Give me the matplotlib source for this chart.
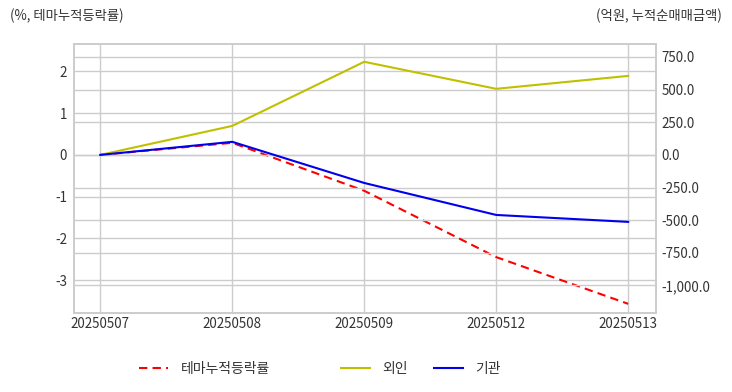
import matplotlib
matplotlib.use("Agg")
import matplotlib.pyplot as plt
from matplotlib.ticker import FuncFormatter, FixedLocator

plt.rcParams['font.family'] = ['Noto Sans CJK KR', 'DejaVu Sans']
plt.rcParams['axes.unicode_minus'] = False

dates = ["20250507", "20250508", "20250509", "20250512", "20250513"]
theme_rate = [0.0, 0.29, -0.86, -2.45, -3.57]
foreign = [0.0, 222, 713, 506, 605]
institution = [0.0, 100, -215, -460, -513]

left_ticks = [-3, -2, -1, 0, 1, 2]
right_ticks = [-1000, -750, -500, -250, 0, 250, 500, 750]

grid_c = "#cccccc"
text_c = "#333333"
fs = 9.6

fig = plt.figure(figsize=(7.32, 3.92), dpi=100)
ax = fig.add_axes([0.101, 0.2015, 0.795, 0.6865])
ax2 = ax.twinx()

x = list(range(len(dates)))
l1, = ax.plot(x, theme_rate, color="#ff0000", linestyle=(0, (4, 2.5)), lw=1.5, label="테마누적등락률", zorder=3)
l2, = ax2.plot(x, foreign, color="#c0c000", lw=1.5, label="외인")
l3, = ax2.plot(x, institution, color="#0000ee", lw=1.5, label="기관")

ax.set_xlim(-0.2, 4.21)
ax.set_ylim(-3.79, 2.66)
ax2.set_ylim(-1211, 850)

ax.set_xticks(x)
ax.set_xticklabels(dates)
ax.yaxis.set_major_locator(FixedLocator(left_ticks))
ax2.yaxis.set_major_locator(FixedLocator(right_ticks))
ax2.yaxis.set_major_formatter(FuncFormatter(lambda v, p: f"{v:,.1f}"))

ax.grid(True, color=grid_c, lw=1)
ax2.grid(True, axis='y', color=grid_c, lw=1)
ax.set_axisbelow(True)
ax2.set_axisbelow(True)

for a in (ax, ax2):
    for s in a.spines.values():
        s.set_color(grid_c)
        s.set_linewidth(1.2)
    a.tick_params(length=0, labelsize=fs, colors=text_c)
ax.tick_params(axis='y', pad=5)
ax2.tick_params(axis='y', pad=4)
ax.tick_params(axis='x', pad=3)

fig.text(10/732, 1 - 16/392, "(%, 테마누적등락률)", fontsize=fs, color=text_c, va='center', ha='left')
fig.text(722/732, 1 - 16/392, "(억원, 누적순매매금액)", fontsize=fs, color=text_c, va='center', ha='right')

legend_x = [139/732, 341/732, 434/732]
for h, lx in zip([l1, l2, l3], legend_x):
    leg = fig.legend(handles=[h], loc='center left', bbox_to_anchor=(lx, 1 - 369/392),
                     frameon=False, fontsize=10, handlelength=2.1, handletextpad=0.9,
                     borderpad=0, borderaxespad=0, labelcolor=text_c)

fig.savefig("out.png", dpi=100)
